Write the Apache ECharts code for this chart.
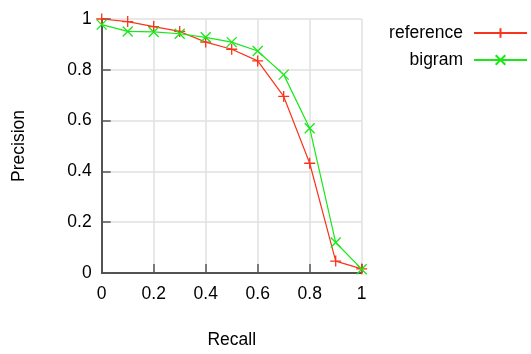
<!DOCTYPE html>
<html><head><meta charset="utf-8">
<script src="https://cdn.jsdelivr.net/npm/echarts@6/dist/echarts.min.js"></script>
<style>html,body{margin:0;padding:0;background:#fff}#c{width:531px;height:354px}</style>
</head><body><div id="c"></div>
<script>
const recall = [0, 0.1, 0.2, 0.3, 0.4, 0.5, 0.6, 0.7, 0.8, 0.9, 1.0];
const referenceVals = [1.0, 0.99, 0.97, 0.951, 0.909, 0.881, 0.835, 0.695, 0.432, 0.047, 0.016];
const bigramVals = [0.978, 0.951, 0.949, 0.942, 0.928, 0.909, 0.874, 0.781, 0.570, 0.120, 0.015];
const seriesNames = ['reference', 'bigram'];

const RED = '#f8341c', GREEN = '#18e818';
const FONT = '"Liberation Sans", Arial, sans-serif';
const plus = 'path://M5,0L5,10M0,5L10,5';
const cross = 'path://M0,0L10,10M10,0L0,10';
function pairs(xs, ys){ return xs.map((x,i)=>[x, ys[i]]); }
function fmt(v){ return v === 0 ? '0' : (v === 1 ? '1' : String(+v.toFixed(1))); }

const chart = echarts.init(document.getElementById('c'), null, {renderer:'canvas'});
chart.setOption({
  animation: false,
  backgroundColor: '#fff',
  textStyle: {fontFamily: FONT},
  grid: {left: 101.7, right: 169.3, top: 19, bottom: 75, containLabel: false},
  legend: {
    orient: 'vertical', right: 3, top: 24, align: 'right', padding: 0,
    itemWidth: 53, itemHeight: 12, itemGap: 9,
    textStyle: {fontFamily: FONT, fontSize: 17.5, color: '#000', padding: [0, 6, 0, 0]},
    data: seriesNames
  },
  xAxis: {
    type: 'value', min: 0, max: 1, interval: 0.2,
    name: 'Recall', nameLocation: 'middle', nameGap: 58,
    nameTextStyle: {fontFamily: FONT, fontSize: 17.5, color: '#000'},
    axisLine: {show: true, onZero: false, lineStyle: {color: '#222', width: 1.5}},
    axisTick: {show: true, inside: true, length: 9, lineStyle: {color: '#555', width: 1.5}},
    axisLabel: {color: '#000', fontSize: 17.5, fontFamily: FONT, margin: 12, formatter: fmt},
    splitLine: {show: true, lineStyle: {color: '#e0e0e0', width: 1.5}}
  },
  yAxis: {
    type: 'value', min: 0, max: 1, interval: 0.2,
    name: 'Precision', nameLocation: 'middle', nameGap: 74,
    nameTextStyle: {fontFamily: FONT, fontSize: 17.5, color: '#000'},
    axisLine: {show: true, onZero: false, lineStyle: {color: '#222', width: 1.5}},
    axisTick: {show: true, inside: true, length: 9, lineStyle: {color: '#555', width: 1.5}},
    axisLabel: {color: '#000', fontSize: 17.5, fontFamily: FONT, margin: 10, formatter: fmt},
    splitLine: {show: true, lineStyle: {color: '#e0e0e0', width: 1.5}}
  },
  series: [
    {
      name: seriesNames[0], type: 'line', data: pairs(recall, referenceVals),
      symbol: plus, symbolSize: 11, showSymbol: true,
      lineStyle: {color: RED, width: 1.2},
      itemStyle: {color: 'rgba(0,0,0,0)', borderColor: RED, borderWidth: 1.3},
      z: 3
    },
    {
      name: seriesNames[1], type: 'line', data: pairs(recall, bigramVals),
      symbol: cross, symbolSize: 10, showSymbol: true,
      lineStyle: {color: GREEN, width: 1.2},
      itemStyle: {color: 'rgba(0,0,0,0)', borderColor: GREEN, borderWidth: 1.3},
      z: 4
    }
  ]
});
</script></body></html>
